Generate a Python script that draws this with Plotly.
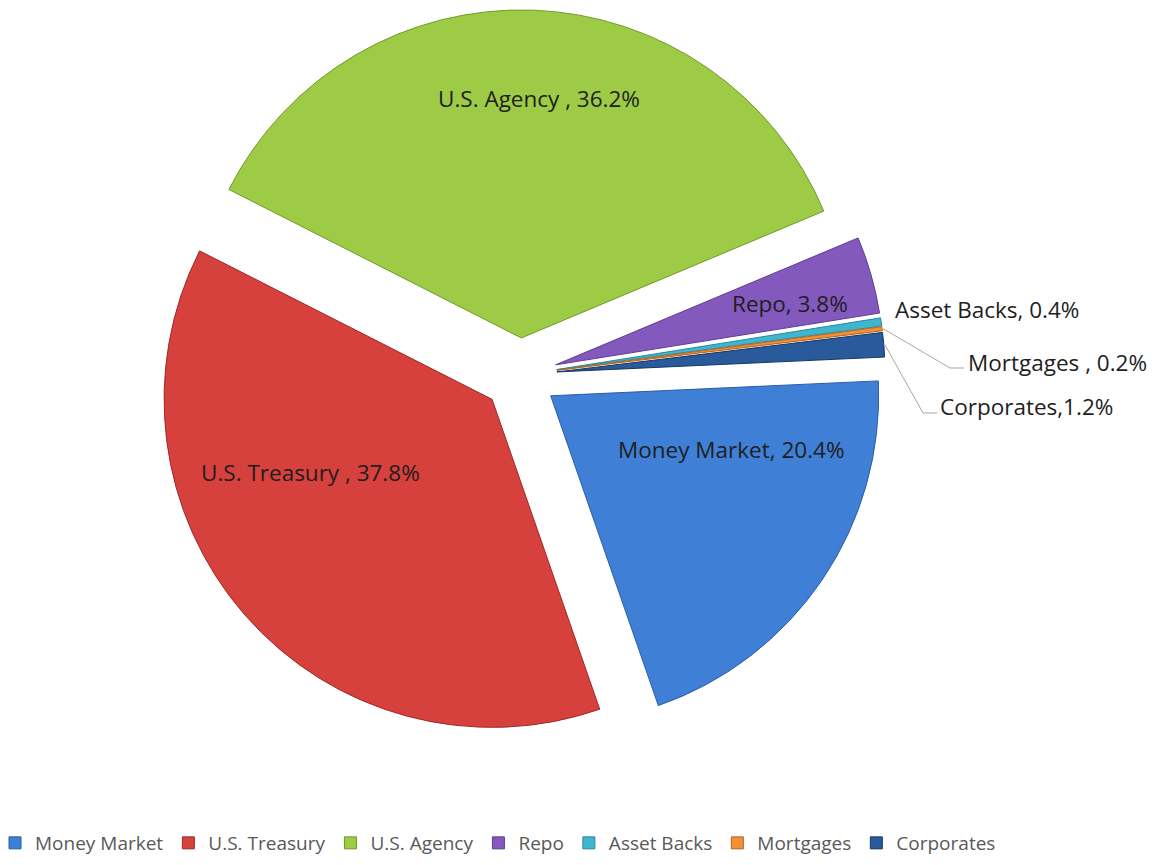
import math
import plotly.graph_objects as go

# ---------------- data ----------------
categories = ["Money Market", "U.S. Treasury", "U.S. Agency", "Repo",
              "Asset Backs", "Mortgages", "Corporates"]
shares = [20.4, 37.8, 36.2, 3.8, 0.4, 0.2, 1.2]
label_texts = ["Money Market, 20.4%", "U.S. Treasury , 37.8%", "U.S. Agency , 36.2%",
               "Repo, 3.8%", "Asset Backs, 0.4%", "Mortgages , 0.2%", "Corporates,1.2%"]

# ---------------- styles ----------------
colors = ["#3F80D6", "#D6403D", "#9DCB45", "#8459BE", "#3FB5CE", "#F0913A", "#285A9C"]
edge_colors = ["#2A5EA8", "#9E2A28", "#6F9A2A", "#5E3C91", "#2A8AA0", "#B86420", "#17375F"]

OFF = 8                     # default page margin around the plot div
W, H = 1160 - 2 * OFF, 865 - 2 * OFF
CX, CY = 520, 375           # pie centre (screen px)
R = 328                     # pie radius in px
PULL = 0.113                # explode fraction
ROTATION = 87.4             # start angle of first slice (clockwise from 12 o'clock)


def px(x):
    return (x - OFF) / W


def py(y):
    return 1 - (y - OFF) / H


box = 2 * R * (1 + PULL)
dom_x = [px(CX - box / 2), px(CX + box / 2)]
dom_y = [py(CY + box / 2), py(CY - box / 2)]

fig = go.Figure(go.Pie(
    labels=categories,
    values=shares,
    sort=False,
    direction="clockwise",
    rotation=ROTATION,
    pull=[PULL] * len(shares),
    marker=dict(colors=colors, line=dict(color=edge_colors, width=1)),
    textinfo="none",
    hoverinfo="label+percent",
    domain=dict(x=dom_x, y=dom_y),
))

total = sum(shares)


def arc_point(i, extra=0.0):
    """Outer-arc midpoint of (pulled) slice i, derived from the data."""
    cum = sum(shares[:i]) + shares[i] / 2
    th = math.radians(ROTATION + 360 * cum / total)
    rr = R * (1 + PULL) + extra
    return CX + rr * math.sin(th), CY - rr * math.cos(th)


label_font = dict(family="Open Sans, sans-serif", size=22.5, color="#1E1E1E")

# label placement: (index, x, y, anchor) in screen px
label_pos = [
    (0, 731, 449, "center"),
    (1, 310, 472, "center"),
    (2, 539, 99, "center"),
    (3, 790, 303, "center"),
    (4, 893, 309, "left"),
    (5, 966, 362, "left"),
    (6, 938, 406, "left"),
]
annotations = []
for i, x, y, anc in label_pos:
    annotations.append(dict(x=px(x), y=py(y), xref="paper", yref="paper",
                            text=label_texts[i], showarrow=False,
                            xanchor=anc, yanchor="middle", font=label_font))

# leader lines for the two tiny slices: elbow point and end of horizontal tick
shapes = []
leaders = {5: (950, 368, 964), 6: (923, 413, 937)}
for i, (ex, ey, hx) in leaders.items():
    sx, sy = arc_point(i, 1)
    path = f"M {px(sx)},{py(sy)} L {px(ex)},{py(ey)} L {px(hx)},{py(ey)}"
    shapes.append(dict(type="path", path=path, xref="paper", yref="paper",
                       line=dict(color="#A6A6A6", width=1)))

fig.update_layout(
    width=W, height=H,
    margin=dict(l=0, r=0, t=0, b=0, autoexpand=False),
    paper_bgcolor="white",
    plot_bgcolor="white",
    annotations=annotations,
    shapes=shapes,
    showlegend=True,
    legend=dict(orientation="h", x=px(498), y=py(843), xanchor="center", yanchor="middle",
                font=dict(family="Open Sans, sans-serif", size=19, color="#595959"),
                traceorder="normal", itemclick=False, bgcolor="rgba(0,0,0,0)"),
)

fig.write_html("out.html")
